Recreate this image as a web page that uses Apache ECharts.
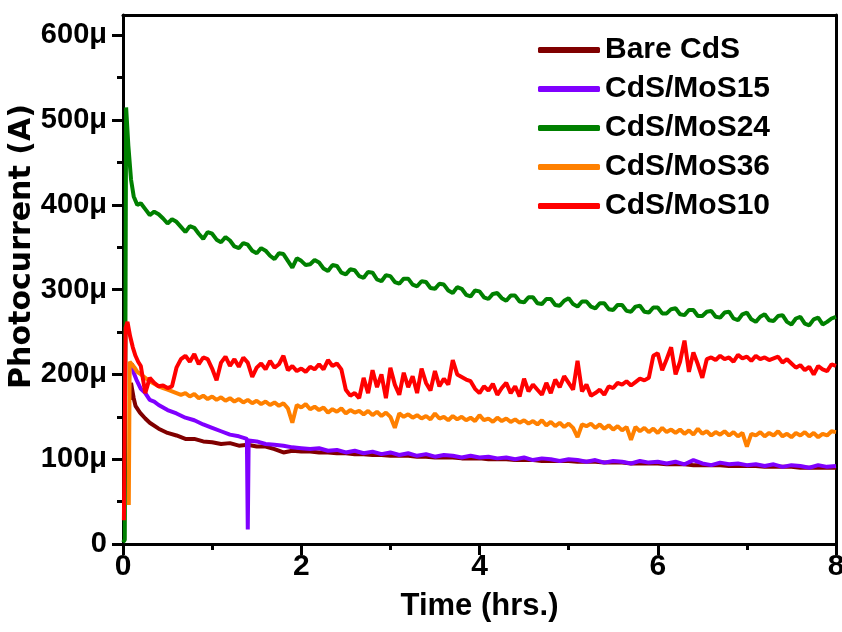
<!DOCTYPE html>
<html>
<head>
<meta charset="utf-8">
<script src="https://cdn.jsdelivr.net/npm/echarts@6/dist/echarts.min.js"></script>
<style>html,body{margin:0;padding:0;background:#fff}#c{width:842px;height:632px}</style>
</head>
<body>
<div id="c"></div>
<script>
// ---- data (current in microamps, time in hours) ----
const seriesNames = ['Bare CdS', 'CdS/MoS15', 'CdS/MoS24', 'CdS/MoS36', 'CdS/MoS10'];
const seriesColors = ['#800000', '#8000FF', '#008000', '#FF8000', '#FF0000'];
const yTickValues = [0, 100, 200, 300, 400, 500, 600];
const yMinorTickValues = [50, 150, 250, 350, 450, 550];

// noisy series sampled every 0.05 h starting at 0.20 h
const gridStart = 0.2, gridStep = 0.05;
// coarser series sampled every 0.1 h starting at 2.1 h
const coarseStart = 2.1, coarseStep = 0.1;

const greenHeadT = [0, 0.02, 0.035, 0.06, 0.09, 0.12, 0.16];
const greenHeadV = [2, 5, 515, 470, 430, 410, 400];
const greenV = [
  402,395,388,392,389,384,378,383,380,374,
  368,375,373,366,360,368,366,359,356,362,
  358,351,349,355,353,346,343,349,346,340,
  336,343,342,334,326,337,334,329,330,335,
  332,325,322,329,328,320,318,324,323,316,
  314,321,320,312,310,317,316,309,307,313,
  313,306,304,310,309,302,301,307,306,299,
  296,303,301,294,292,299,298,291,289,295,
  296,290,287,293,293,286,285,291,291,284,
  283,289,289,282,281,287,290,283,280,286,
  286,280,278,284,284,277,276,282,282,275,
  274,280,281,274,273,279,279,272,272,277,
  278,271,270,276,276,269,269,274,275,268,
  267,273,274,266,264,271,273,265,262,268,
  271,264,263,269,270,262,259,266,268,260,
  258,265,267,259,262,266,
  268];

const redHeadT = [0.01, 0.03, 0.05, 0.08, 0.11, 0.14, 0.17];
const redHeadV = [28, 255, 262, 245, 232, 222, 215];
const redV = [
  210,178,196,190,186,187,184,186,208,218,
  222,215,224,212,220,218,207,193,214,221,
  210,218,209,220,214,197,208,213,206,216,
  208,212,222,205,210,204,207,203,209,206,
  212,206,217,210,213,206,182,175,178,172,
  196,178,205,185,200,172,208,188,176,202,
  185,198,178,207,190,181,204,186,195,188,
  217,200,197,194,192,183,178,186,181,189,
  176,184,190,178,186,174,195,180,188,182,
  176,190,178,194,185,198,190,182,216,180,
  188,175,178,182,176,186,184,190,188,192,
  187,191,195,193,196,222,225,205,218,232,
  200,215,240,203,226,212,196,218,220,217,
  222,218,220,215,223,219,221,216,222,218,
  220,217,219,221,214,218,213,208,211,205,
  209,200,210,206,204,212,
  210];

const orangeHeadT = [0.065, 0.075, 0.1, 0.13, 0.16];
const orangeHeadV = [46, 215, 212, 208, 203];
const orangeV = [
  200,196,192,189,186,184,182,180,178,176,
  178,174,177,172,175,171,174,170,173,169,
  172,168,171,167,170,166,169,165,168,164,
  167,163,166,160,143,164,161,165,159,162,
  158,161,155,159,156,160,154,158,155,157,
  153,157,152,156,151,155,150,137,154,150,
  153,149,152,148,151,147,154,148,150,146,
  151,147,150,146,149,145,152,146,148,144,
  149,145,148,144,147,143,146,142,145,141,
  146,140,144,139,143,138,142,137,126,141,
  139,142,137,141,136,140,135,139,134,138,
  123,138,133,137,132,136,131,137,132,135,
  131,135,130,134,129,136,130,133,128,132,
  129,133,128,132,127,131,115,130,128,132,
  127,131,128,133,127,130,126,131,128,132,
  127,131,126,130,128,133,
  132];

const purpleHeadT = [0.1,0.12,0.15,0.2,0.25,0.3,0.35,0.4,0.45,0.5,0.6,0.7,0.8,0.9,1.0,1.1,1.2,1.3,1.39,1.40,1.41,1.5,1.6,1.7,1.8,1.9,2.0];
const purpleHeadV = [213,202,194,183,178,170,168,164,161,158,154,149,146,141,137,133,129,127,124,17,122,121,118,117,116,114,113];
const purpleV = [
  112,113,110,111,108,110,107,109,106,108,
  105,107,104,106,103,105,104,102,104,102,
  103,101,102,100,102,99,101,100,98,100,
  99,97,99,96,98,97,95,98,96,97,
  95,97,94,99,95,93,96,94,95,93,
  94,92,94,91,93,92,90,93,91,92];

const maroonHeadT = [0.08,0.09,0.1,0.12,0.14,0.19,0.25,0.3,0.4,0.5,0.6,0.7,0.8,0.9,1.0,1.1,1.2,1.3,1.4,1.5,1.6,1.7,1.8,1.9,2.0];
const maroonHeadV = [170,190,184,172,163,155,148,143,136,131,128,124,124,121,120,118,119,116,117,115,115,112,108,110,109];
const maroonV = [
  109,108,108,107,107,106,106,105,105,104,
  104,104,103,103,102,102,102,101,101,101,
  100,100,100,99,99,99,98,98,98,98,
  97,97,97,96,96,96,95,95,95,95,
  94,94,94,93,93,93,93,92,92,92,
  92,91,91,91,91,90,90,90,90,90];

// ---- build series data ----
function build(headT, headV, vals, start, step) {
  const out = headT.map((t, i) => [t, headV[i]]);
  vals.forEach((v, i) => out.push([+(start + i * step).toFixed(3), v]));
  return out;
}
const dataSets = [
  build(maroonHeadT, maroonHeadV, maroonV, coarseStart, coarseStep),
  build(purpleHeadT, purpleHeadV, purpleV, coarseStart, coarseStep),
  build(greenHeadT, greenHeadV, greenV, gridStart, gridStep),
  build(orangeHeadT, orangeHeadV, orangeV, gridStart, gridStep),
  build(redHeadT, redHeadV, redV, gridStart, gridStep)
];

const FONT = 'Liberation Sans, Arial, sans-serif';
const chart = echarts.init(document.getElementById('c'), null, {renderer: 'canvas'});
chart.setOption({
  animation: false,
  backgroundColor: '#fff',
  grid: {left: 123, right: 6, top: 15, bottom: 88, containLabel: false, outerBoundsMode: 'none'},
  legend: {
    orient: 'vertical', left: 533, top: 30,
    itemWidth: 62, itemHeight: 6, itemGap: 9, icon: 'roundRect',
    textStyle: {fontFamily: FONT, fontWeight: 'bold', fontSize: 30, color: '#000', lineHeight: 30},
    data: seriesNames
  },
  xAxis: [{
    type: 'value', min: 0, max: 8, interval: 2,
    name: 'Time (hrs.)', nameLocation: 'middle', nameGap: 47, nameMoveOverlap: false,
    nameTextStyle: {fontFamily: FONT, fontWeight: 'bold', fontSize: 31, color: '#000'},
    axisLine: {show: true, lineStyle: {color: '#000', width: 3}},
    axisTick: {show: true, inside: false, length: 11, lineStyle: {color: '#000', width: 3}},
    minorTick: {show: true, splitNumber: 2, length: 6, lineStyle: {color: '#000', width: 3}},
    axisLabel: {margin: 8, fontFamily: FONT, fontWeight: 'bold', fontSize: 30, color: '#000'},
    splitLine: {show: false}, minorSplitLine: {show: false}
  }, {
    type: 'value', position: 'top', min: 0, max: 8,
    axisLine: {show: true, onZero: false, lineStyle: {color: '#000', width: 3}},
    axisTick: {show: false}, axisLabel: {show: false}, splitLine: {show: false}
  }],
  yAxis: [{
    type: 'value', min: 0, max: 624, interval: 100,
    name: 'Photocurrent (A)', nameLocation: 'middle', nameGap: 86, nameRotate: 90, nameMoveOverlap: false,
    nameTextStyle: {fontFamily: 'DejaVu Sans, sans-serif', fontWeight: 'bold', fontSize: 30, color: '#000', padding: [0, 0, 0, 66]},
    axisLine: {show: true, lineStyle: {color: '#000', width: 3}},
    axisTick: {show: true, inside: false, length: 11, customValues: yTickValues, lineStyle: {color: '#000', width: 3}},
    axisLabel: {margin: 16, customValues: yTickValues, fontFamily: FONT, fontWeight: 'bold', fontSize: 29, color: '#000',
      formatter: v => v === 0 ? '0' : v + 'μ'},
    splitLine: {show: false}
  }, {
    type: 'value', position: 'left', min: 0, max: 624,
    axisLine: {show: false},
    axisTick: {show: true, inside: false, length: 6, customValues: yMinorTickValues, lineStyle: {color: '#000', width: 3}},
    axisLabel: {show: false}, splitLine: {show: false}
  }, {
    type: 'value', position: 'right', min: 0, max: 624,
    axisLine: {show: true, onZero: false, lineStyle: {color: '#000', width: 3}},
    axisTick: {show: false}, axisLabel: {show: false}, splitLine: {show: false}
  }],
  series: seriesNames.map((n, i) => ({
    name: n, type: 'line', data: dataSets[i], xAxisIndex: 0, yAxisIndex: 0,
    showSymbol: false, symbol: 'none', color: seriesColors[i],
    lineStyle: {width: 4, color: seriesColors[i]}, z: 2 + i
  }))
});
</script>
</body>
</html>
